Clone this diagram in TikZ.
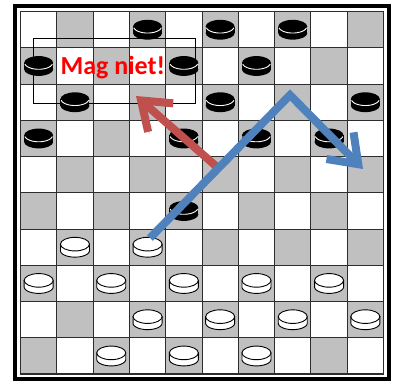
\documentclass[tikz,border=0pt]{standalone}
\usepackage{fontspec}
\setmainfont{Carlito}
\usetikzlibrary{arrows.meta}
\definecolor{cellgray}{RGB}{192,192,192}
\definecolor{gridline}{RGB}{45,45,45}
\definecolor{redarrow}{RGB}{192,80,77}
\definecolor{bluearrow}{RGB}{79,129,189}
\begin{document}
\begin{tikzpicture}[x=1pt,y=-1pt,
  blackpiece/.pic={
    \fill[black] (0,3.5) ellipse[x radius=14.5pt,y radius=6.5pt];
    \fill[black] (-14.5,-3) rectangle (14.5,3.5);
    \fill[black] (0,-3) ellipse[x radius=14.5pt,y radius=6.8pt];
    \draw[white,line width=0.9pt] plot[variable=\t,domain=190:350,samples=30] ({13.9*cos(\t)},{-3-6.4*sin(\t)});
  },
  whitepiece/.pic={
    \filldraw[fill=white,draw=black,line width=0.9pt] (-14.5,-3) -- plot[variable=\t,domain=180:360,samples=30] ({14.5*cos(\t)},{3.5-6.5*sin(\t)}) -- (14.5,-3) -- cycle;
    \filldraw[fill=white,draw=black,line width=0.9pt] (0,-3) ellipse[x radius=14.5pt,y radius=6.8pt];
  },
  arrowline/.style={line width=8pt, line join=miter,
    -{Straight Barb[length=26pt,width=38pt,line cap=butt,line join=miter]},
    preaction={draw=black, draw opacity=0.18, transform canvas={shift={(1.5pt,-2pt)}}}},
  gridrule/.style={draw=gridline, line width=0.9pt},
  boardedge/.style={draw=black, line width=4pt},
  warnbox/.style={draw=black, line width=1pt, minimum width=161.7pt, minimum height=65pt, inner sep=0pt},
  warntext/.style={text=red, font=\bfseries\fontsize{26}{30}\selectfont, inner sep=0pt, anchor=base}
]
\useasboundingbox (0,0) rectangle (393,381);
\fill[white] (0,0) rectangle (393,381);
% outer frame
\draw[boardedge] (15.3,6.3) rectangle (389.3,379.3);
% cells
\foreach \r in {0,...,9}{
  \foreach \c in {0,...,9}{
    \pgfmathtruncatemacro{\cellparity}{mod(\r+\c,2)}
    \ifnum\cellparity=1
      \fill[cellgray] ({20.5+36.3*\c},{11.5+36.25*\r}) rectangle ({20.5+36.3*(\c+1)},{11.5+36.25*(\r+1)});
    \fi
  }
}
% grid lines
\foreach \i in {1,...,9}{
  \draw[gridrule] ({20.5+36.3*\i},11.5) -- ({20.5+36.3*\i},374);
  \draw[gridrule] (20.5,{11.5+36.25*\i}) -- (383.5,{11.5+36.25*\i});
}
\draw[gridrule, line width=1.4pt] (20.5,11.5) rectangle (383.5,374);
% box around the warning
\node[warnbox] (box) at (114.2,70.8) {};
% black pieces
\foreach \r/\c in {0/3,0/5,0/7,1/0,1/4,1/6,2/1,2/5,2/9,3/0,3/4,3/6,3/8,5/4}
  \pic at ({20.5+36.3*(\c+0.5)},{11.5+36.25*(\r+0.5)}) {blackpiece};
% white pieces
\foreach \r/\c in {6/1,6/3,7/0,7/2,7/4,7/6,7/8,8/3,8/5,8/7,8/9,9/2,9/4,9/6}
  \pic at ({20.5+36.3*(\c+0.5)},{11.5+36.25*(\r+0.5)}) {whitepiece};
% warning text
\node[warntext] (label) at (112.8,74) {Mag niet!};
% arrows
\coordinate (redtail) at (217,167);
\coordinate (redtip) at (136,96);
\coordinate (bluestart) at (150,238);
\coordinate (bluepeak) at (290,95);
\coordinate (bluetip) at (363,169);
\draw[arrowline, draw=redarrow] (redtail) -- (redtip);
\draw[arrowline, draw=bluearrow] (bluestart) -- (bluepeak) -- (bluetip);
\end{tikzpicture}
\end{document}
